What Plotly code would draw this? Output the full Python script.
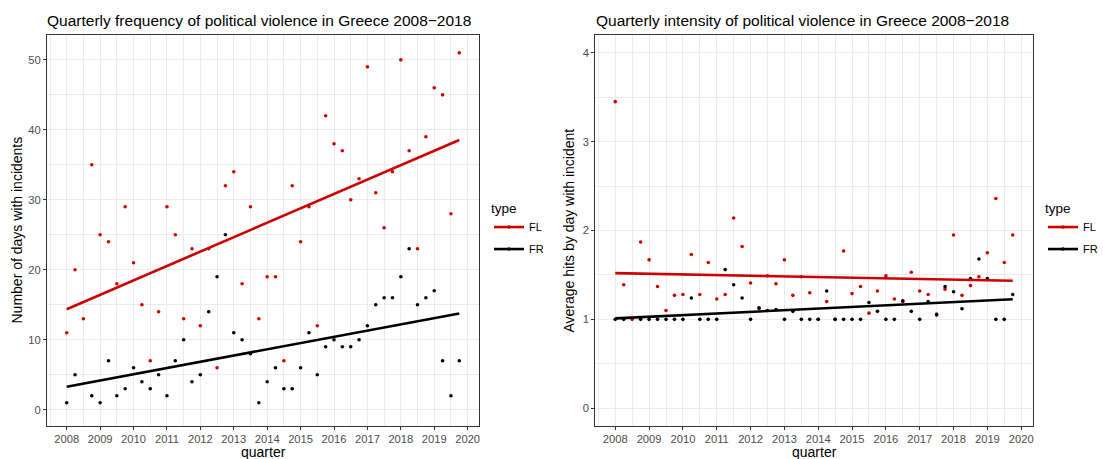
import numpy as np
import plotly.graph_objects as go

# ---------------- data ----------------
quarters = [
    2008.00, 2008.25, 2008.50, 2008.75,
    2009.00, 2009.25, 2009.50, 2009.75,
    2010.00, 2010.25, 2010.50, 2010.75,
    2011.00, 2011.25, 2011.50, 2011.75,
    2012.00, 2012.25, 2012.50, 2012.75,
    2013.00, 2013.25, 2013.50, 2013.75,
    2014.00, 2014.25, 2014.50, 2014.75,
    2015.00, 2015.25, 2015.50, 2015.75,
    2016.00, 2016.25, 2016.50, 2016.75,
    2017.00, 2017.25, 2017.50, 2017.75,
    2018.00, 2018.25, 2018.50, 2018.75,
    2019.00, 2019.25, 2019.50, 2019.75,
]

fl_days = [11, 20, 13, 35, 25, 24, 18, 29, 21, 15, 7, 14,
           29, 25, 13, 23, 12, 23, 6, 32, 34, 18, 29, 13,
           19, 19, 7, 32, 24, 29, 12, 42, 38, 37, 30, 33,
           49, 31, 26, 34, 50, 37, 23, 39, 46, 45, 28, 51]

fr_days = [1, 5, None, 2, 1, 7, 2, 3, 6, 4, 3, 5,
           2, 7, 10, 4, 5, 14, 19, 25, 11, 10, 8, 1,
           4, 6, 3, 3, 6, 11, 5, 9, 10, 9, 9, 10,
           12, 15, 16, 16, 19, 23, 15, 16, 17, 7, 2, 7]

fl_hits = [3.45, 1.39, 1.00, 1.87, 1.67, 1.37, 1.10, 1.27,
           1.28, 1.73, 1.28, 1.64, 1.23, 1.28, 2.14, 1.82,
           1.41, 1.12, 1.49, 1.40, 1.67, 1.27, 1.48, 1.30,
           1.00, 1.20, 1.00, 1.77, 1.29, 1.37, 1.07, 1.32,
           1.49, 1.23, 1.20, 1.53, 1.32, 1.28, 1.06, 1.34,
           1.95, 1.27, 1.38, 1.48, 1.75, 2.36, 1.64, 1.95]

fr_hits = [1.00, 1.00, None, 1.00, 1.00, 1.00, 1.00, 1.00,
           1.00, 1.24, 1.00, 1.00, 1.00, 1.56, 1.39, 1.24,
           1.00, 1.13, 1.10, 1.11, 1.00, 1.09, 1.00, 1.00,
           1.00, 1.32, 1.00, 1.00, 1.00, 1.00, 1.19, 1.09,
           1.00, 1.00, 1.21, 1.09, 1.00, 1.20, 1.05, 1.37,
           1.31, 1.12, 1.46, 1.68, 1.46, 1.00, 1.00, 1.28]

types = ["FL", "FR"]
type_colors = {"FL": "#CD0000", "FR": "#000000"}

left_title = "Quarterly frequency of political violence in Greece 2008\u22122018"
right_title = "Quarterly intensity of political violence in Greece 2008\u22122018"
left_ytitle = "Number of days with incidents"
right_ytitle = "Average hits by day with incident"
xtitle = "quarter"

# ---------------- helpers ----------------
W, H = 1103, 459
FONT = "Liberation Sans, Arial, sans-serif"


def fit_line(xs, ys):
    pts = [(x, y) for x, y in zip(xs, ys) if y is not None]
    px = np.array([p[0] for p in pts], dtype=float)
    py = np.array([p[1] for p in pts], dtype=float)
    b, a = np.polyfit(px, py, 1)
    lx = np.array([px.min(), px.max()])
    return lx, a + b * lx


fig = go.Figure()

panels = [
    ("x", "y", "legend", {"FL": fl_days, "FR": fr_days}),
    ("x2", "y2", "legend2", {"FL": fl_hits, "FR": fr_hits}),
]

for xa, ya, lg, series in panels:
    # points
    for t in types:
        fig.add_trace(go.Scatter(
            x=quarters, y=series[t], mode="markers", xaxis=xa, yaxis=ya,
            marker=dict(size=3.6, color=type_colors[t]),
            showlegend=False, hoverinfo="x+y", name=t))
    # regression lines
    for t in types:
        lx, ly = fit_line(quarters, series[t])
        fig.add_trace(go.Scatter(
            x=lx, y=ly, mode="lines", xaxis=xa, yaxis=ya,
            line=dict(color=type_colors[t], width=2.6),
            showlegend=False, name=t))
    # legend keys
    for t in types:
        fig.add_trace(go.Scatter(
            x=[None], y=[None], mode="lines+markers", xaxis=xa, yaxis=ya,
            line=dict(color=type_colors[t], width=2.6),
            marker=dict(size=3.6, color=type_colors[t]),
            name=t, legend=lg, legendgroup=lg + t, showlegend=True))

ydom = [(H - 426) / H, (H - 35) / H]
xdom1 = [47 / W, 479 / W]
xdom2 = [595.3 / W, 1032.7 / W]

grid = "#EBEBEB"
border = "#333333"
tickfont = dict(family=FONT, size=11.2, color="#4D4D4D")


def xaxis_style(dom, anchor):
    return dict(
        domain=dom, anchor=anchor, range=[2007.41, 2020.34],
        tick0=2008, dtick=1, ticks="outside", ticklen=3, tickcolor=border,
        tickwidth=1, showline=True, mirror=True, linecolor=border, linewidth=1.1,
        showgrid=True, gridcolor=grid, gridwidth=1.1, zeroline=False,
        minor=dict(tick0=2008, dtick=0.5, showgrid=True, gridcolor=grid,
                   gridwidth=0.55, ticks=""),
        tickfont=tickfont, fixedrange=True)


def yaxis_style(anchor, rng, dt):
    return dict(
        domain=ydom, anchor=anchor, range=rng, tick0=0, dtick=dt,
        ticks="outside", ticklen=3, tickcolor=border, tickwidth=1,
        showline=True, mirror=True, linecolor=border, linewidth=1.1,
        showgrid=True, gridcolor=grid, gridwidth=1.1, zeroline=False,
        minor=dict(tick0=0, dtick=dt / 2, showgrid=True, gridcolor=grid,
                   gridwidth=0.55, ticks=""),
        tickfont=tickfont, fixedrange=True)


legend_common = dict(
    xanchor="left", yanchor="top", bgcolor="rgba(0,0,0,0)",
    font=dict(family=FONT, size=11, color="#000000"),
    itemwidth=30, tracegroupgap=3,
)

fig.update_layout(
    width=W, height=H,
    margin=dict(l=0, r=0, t=0, b=0),
    paper_bgcolor="white", plot_bgcolor="white",
    font=dict(family=FONT, color="#000000"),
    xaxis=xaxis_style(xdom1, "y"),
    yaxis=yaxis_style("x", [-2.33, 53.55], 10),
    xaxis2=xaxis_style(xdom2, "y2"),
    yaxis2=yaxis_style("x2", [-0.2, 4.2], 1),
    legend=dict(x=489 / W, y=(H - 195) / H,
                title=dict(text="type", font=dict(family=FONT, size=13.5)),
                **legend_common),
    legend2=dict(x=1043 / W, y=(H - 195) / H,
                 title=dict(text="type", font=dict(family=FONT, size=13.5)),
                 **legend_common),
    showlegend=True,
)

annos = [
    dict(text=left_title, x=44.5 / W, y=(H - 20) / H, xanchor="left",
         yanchor="middle", font=dict(size=15.5)),
    dict(text=right_title, x=594 / W, y=(H - 20) / H, xanchor="left",
         yanchor="middle", font=dict(size=15.5)),
    dict(text=left_ytitle, x=17 / W, y=(H - 230.5) / H, xanchor="center",
         yanchor="middle", textangle=-90, font=dict(size=14)),
    dict(text=right_ytitle, x=569 / W, y=(H - 230.5) / H, xanchor="center",
         yanchor="middle", textangle=-90, font=dict(size=14)),
    dict(text=xtitle, x=263 / W, y=(H - 452) / H, xanchor="center",
         yanchor="middle", font=dict(size=14)),
    dict(text=xtitle, x=814 / W, y=(H - 452) / H, xanchor="center",
         yanchor="middle", font=dict(size=14)),
]
for a in annos:
    a.update(xref="paper", yref="paper", showarrow=False)
    a["font"].update(family=FONT, color="#000000")
fig.update_layout(annotations=annos)

fig.write_html(
    "out.html",
    config={"displayModeBar": False},
    post_script="document.body.style.margin='0';document.body.style.overflow='hidden';",
)
